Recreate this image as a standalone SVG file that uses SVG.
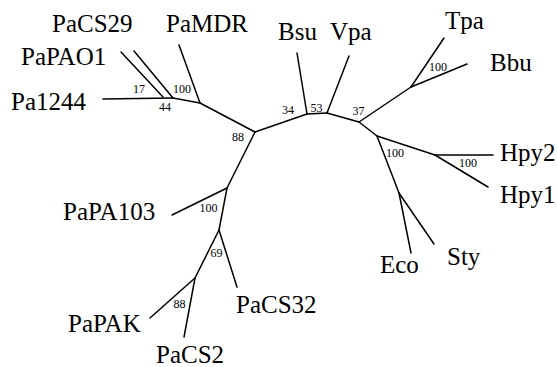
<svg xmlns="http://www.w3.org/2000/svg" width="557" height="367" viewBox="0 0 557 367">
<style>
.leaf{font-size:25px;fill:#000}
.bs{font-size:12px;fill:#000;text-anchor:middle}
.br{stroke:#000;stroke-width:1.5;fill:none;stroke-linecap:round}
</style>
<rect width="557" height="367" fill="#fff"/>
<g id="connectors" class="br">
<line x1="103" y1="99" x2="173" y2="98"/>
<line x1="121" y1="52" x2="163" y2="97"/>
<line x1="134" y1="51" x2="173" y2="98"/>
<line x1="173" y1="98" x2="200" y2="103"/>
<line x1="179" y1="45" x2="200" y2="103"/>
<line x1="200" y1="103" x2="255" y2="132"/>
<line x1="255" y1="132" x2="307" y2="114"/>
<line x1="297" y1="53" x2="307" y2="114"/>
<line x1="307" y1="114" x2="327" y2="113"/>
<line x1="349" y1="56" x2="327" y2="113"/>
<line x1="327" y1="113" x2="359" y2="122"/>
<line x1="359" y1="122" x2="411" y2="87"/>
<line x1="411" y1="87" x2="444" y2="38"/>
<line x1="411" y1="87" x2="467" y2="64"/>
<line x1="359" y1="122" x2="377" y2="136"/>
<line x1="377" y1="136" x2="435" y2="155"/>
<line x1="435" y1="155" x2="493" y2="155"/>
<line x1="435" y1="155" x2="488" y2="187"/>
<line x1="377" y1="136" x2="399" y2="193"/>
<line x1="399" y1="193" x2="411" y2="253"/>
<line x1="399" y1="193" x2="434" y2="244"/>
<line x1="255" y1="132" x2="227" y2="188"/>
<line x1="227" y1="188" x2="172" y2="215"/>
<line x1="227" y1="188" x2="219" y2="230"/>
<line x1="219" y1="230" x2="237" y2="287"/>
<line x1="219" y1="230" x2="195" y2="278"/>
<line x1="195" y1="278" x2="150" y2="318"/>
<line x1="195" y1="278" x2="184" y2="337"/>
</g>
<g id="labels" font-family="Liberation Serif, DejaVu Serif, serif">
<g id="PaCS29"><text class="leaf" x="52" y="32">PaCS29</text></g>
<g id="PaMDR"><text class="leaf" x="166" y="32">PaMDR</text></g>
<g id="PaPAO1"><text class="leaf" x="21" y="65">PaPAO1</text></g>
<g id="Pa1244"><text class="leaf" x="11" y="110">Pa1244</text></g>
<g id="Bsu"><text class="leaf" x="278" y="40">Bsu</text></g>
<g id="Vpa"><text class="leaf" x="330" y="40">Vpa</text></g>
<g id="Tpa"><text class="leaf" x="445" y="29">Tpa</text></g>
<g id="Bbu"><text class="leaf" x="490" y="71">Bbu</text></g>
<g id="Hpy2"><text class="leaf" x="500" y="161">Hpy2</text></g>
<g id="Hpy1"><text class="leaf" x="500" y="203">Hpy1</text></g>
<g id="Eco"><text class="leaf" x="380" y="273">Eco</text></g>
<g id="Sty"><text class="leaf" x="447" y="265">Sty</text></g>
<g id="PaCS32"><text class="leaf" x="236" y="313">PaCS32</text></g>
<g id="PaCS2"><text class="leaf" x="156" y="363">PaCS2</text></g>
<g id="PaPAK"><text class="leaf" x="68" y="332">PaPAK</text></g>
<g id="PaPA103"><text class="leaf" x="63" y="220">PaPA103</text></g>
<g id="n17"><text class="bs" x="139" y="93">17</text></g>
<g id="n100a"><text class="bs" x="182" y="93">100</text></g>
<g id="n44"><text class="bs" x="165" y="111">44</text></g>
<g id="n88a"><text class="bs" x="238" y="141">88</text></g>
<g id="n34"><text class="bs" x="288" y="114">34</text></g>
<g id="n53"><text class="bs" x="316.5" y="112">53</text></g>
<g id="n37"><text class="bs" x="358.5" y="115">37</text></g>
<g id="n100b"><text class="bs" x="438" y="71">100</text></g>
<g id="n100c"><text class="bs" x="395" y="157">100</text></g>
<g id="n100d"><text class="bs" x="468" y="167">100</text></g>
<g id="n100e"><text class="bs" x="208.5" y="212">100</text></g>
<g id="n69"><text class="bs" x="216.5" y="257">69</text></g>
<g id="n88b"><text class="bs" x="179.5" y="308">88</text></g>
</g>
</svg>
